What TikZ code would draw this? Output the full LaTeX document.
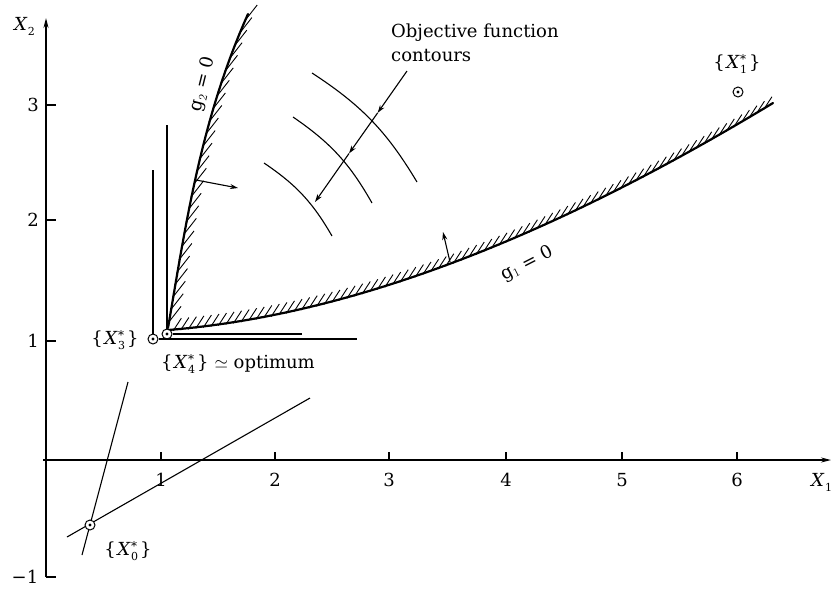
\documentclass[tikz,border=0pt]{standalone}
\usepackage{fontspec}
\setmainfont{DejaVu Serif}
\usetikzlibrary{arrows.meta}
\newcommand{\Xv}[2]{\textit{X}\kern0.5pt\makebox[8pt][l]{\rlap{\raisebox{-5pt}{\fontsize{11}{11}\selectfont #1}}\raisebox{5.5pt}{\fontsize{12}{12}\selectfont #2}}}
\newcommand{\Xset}[2]{\{\kern1.5pt\Xv{#1}{#2}\kern1pt\}}
\tikzset{
  axisline/.style={line width=1.3pt},
  thinline/.style={line width=1.1pt},
  bound/.style={line width=2.2pt,line cap=round},
  hatchline/.style={line width=0.9pt},
  ptmark/.style={circle,draw,line width=1pt,minimum size=10pt,inner sep=0pt,fill=white},
  txt/.style={inner sep=1pt},
  tip/.style={-{Stealth[length=8pt,width=5pt]}},
}
\begin{document}
\begin{tikzpicture}[x=1pt,y=-1pt,font=\fontsize{18}{24}\selectfont]
\useasboundingbox (0,0) rectangle (832,590);
% axes
\coordinate (xstart) at (43,460);
\coordinate (xend) at (831,460);
\coordinate (ybot) at (46,577);
\coordinate (ytop) at (46,18);
\draw[axisline,-{Stealth[length=10pt,width=5pt]}] (xstart) -- (xend);
\draw[axisline,-{Stealth[length=10pt,width=5pt]}] (ybot) -- (ytop);
\foreach \x/\l in {161/1,275/2,389/3,506/4,622/5,737/6}{
  \draw[thinline] (\x,460) -- (\x,452);
  \node[txt] (tx\l) at (\x,480) {\l};
}
\foreach \y/\l in {105/3,220/2,341/1}{
  \draw[thinline] (46,\y) -- (56,\y);
  \node[txt] (ty\l) at (33,\y) {\l};
}
\draw[thinline] (46,577) -- (56,577);
\node[txt] (tym1) at (25,577) {−1};
\node[txt] (xl2) at (25,26) {\Xv{2}{}};
\node[txt,anchor=west] (xl1) at (810,482) {\Xv{1}{}};

% constraint g2 with hatching
\coordinate (g2s) at (168,328);
\coordinate (g2c1) at (186,223);
\coordinate (g2c2) at (201,119);
\coordinate (g2e) at (248,14);
\draw[bound] (g2s) .. controls (g2c1) and (g2c2) .. (g2e);
\foreach \t in {0.02,0.06,...,0.99}{
  \path (g2s) .. controls (g2c1) and (g2c2) .. (g2e) coordinate[pos=\t] (hh);
  \draw[hatchline] (hh) ++(232:1.5pt) -- ++(52:21pt);
}
% constraint g1 with hatching
\coordinate (g1s) at (168,330);
\coordinate (g1c1) at (368,314);
\coordinate (g1c2) at (573,224);
\coordinate (g1e) at (773,103);
\draw[bound] (g1s) .. controls (g1c1) and (g1c2) .. (g1e);
\foreach \t in {0.01,0.0225,...,0.995}{
  \path (g1s) .. controls (g1c1) and (g1c2) .. (g1e) coordinate[pos=\t] (hh);
  \draw[hatchline] (hh) ++(237:1.5pt) -- ++(57:15pt);
}
\node[txt,rotate=76] (g2l) at (203,84) {g$_2$ = 0};
\node[txt,rotate=27] (g1l) at (527,264) {g$_1$ = 0};

% normal arrows
\coordinate (g2a) at (196,180);
\coordinate (g2b) at (238,188);
\draw[thinline,tip] (g2a) -- (g2b);
\coordinate (g1a) at (450,262);
\coordinate (g1b) at (443,232);
\draw[thinline,tip] (g1a) -- (g1b);

% objective contours
\coordinate (c1a) at (312,73);  \coordinate (c1b) at (417,182);
\coordinate (c2a) at (293,117); \coordinate (c2b) at (372,203);
\coordinate (c3a) at (264,163); \coordinate (c3b) at (332,236);
\draw[thinline] (c1a) to[bend left=13] (c1b);
\draw[thinline] (c2a) to[bend left=13] (c2b);
\draw[thinline] (c3a) to[bend left=13] (c3b);
\node[txt,anchor=north west,align=left] (obj) at (390,23) {Objective function\\contours};
\coordinate (ca) at (407,71);
\coordinate (cm1) at (377.6,112.9);
\coordinate (cm2) at (349,153.5);
\coordinate (cb) at (315,202);
\draw[thinline,tip] (ca) -- (cm1);
\draw[thinline,tip] (cm1) -- (cm2);
\draw[thinline,tip] (cm2) -- (cb);

% search lines
\coordinate (p3up) at (153,170);
\coordinate (p3right) at (357,339);
\coordinate (p4up) at (167,125);
\coordinate (p4right) at (302,334);
\coordinate (a1) at (82,555);  \coordinate (a2) at (128,382);
\coordinate (b1) at (67,537);  \coordinate (b2) at (310,398);
\draw[thinline] (a1) -- (a2);
\draw[thinline] (b1) -- (b2);
\node[ptmark] (p1) at (738,92) {};
\node[ptmark] (p3) at (153,339) {};
\node[ptmark] (p4) at (167,334) {};
\node[ptmark] (p0) at (90,525) {};
\foreach \p in {p0,p1,p3,p4}{\fill (\p.center) circle (1.6pt);}
\draw[thinline] (p3.north) -- (p3up);
\draw[thinline] (p3.east) -- (p3right);
\draw[thinline] (p4.north) -- (p4up);
\draw[thinline] (p4.east) -- (p4right);

% point labels
\node[txt] (l1) at (737,64) {\Xset{1}{*}};
\node[txt] (l3) at (115,340) {\Xset{3}{*}};
\node[txt,anchor=west] (l4) at (160,364) {\Xset{4}{*}\,\,$\simeq$ optimum};
\node[txt] (l0) at (128,551) {\Xset{0}{*}};
\end{tikzpicture}
\end{document}
